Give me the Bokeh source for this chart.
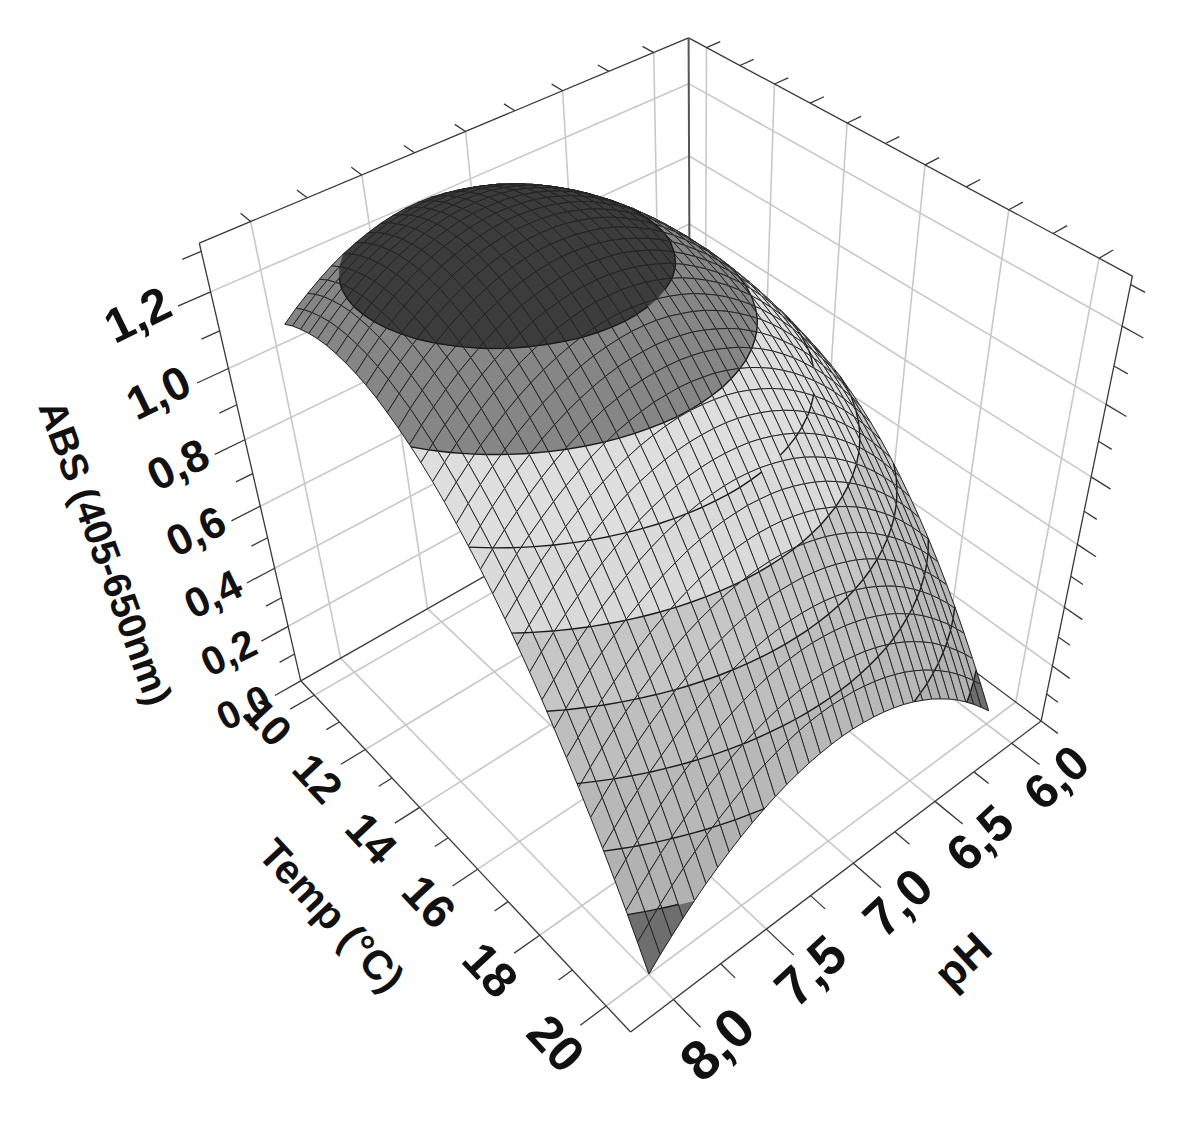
import numpy as np
from bokeh.plotting import figure
from bokeh.embed import file_html
from bokeh.resources import INLINE
from bokeh.core.properties import value

# ---------- data: ABS (x1000); rows Temp 10..20, columns pH 8..6 ----------
ABS_ROWS = [
[1095,1121,1144,1165,1184,1200,1213,1224,1233,1239,1243,1244,1243,1239,1233,1225,1214,1200,1184,1166,1145,1121,1096,1067,1036,1003,967,929,889,846,800,752,701,649],
[1110,1136,1160,1181,1200,1217,1231,1242,1252,1258,1262,1264,1263,1260,1254,1246,1236,1223,1207,1189,1169,1146,1120,1092,1062,1029,994,956,916,873,828,781,731,678],
[1121,1148,1173,1194,1214,1231,1245,1257,1267,1274,1279,1281,1281,1278,1273,1265,1255,1242,1227,1209,1189,1167,1142,1115,1085,1052,1018,980,941,898,854,807,757,705],
[1130,1157,1182,1205,1224,1242,1257,1269,1279,1287,1292,1295,1295,1292,1288,1280,1271,1259,1244,1227,1207,1185,1161,1134,1104,1072,1038,1001,962,920,876,829,780,729],
[1136,1164,1189,1212,1232,1250,1265,1278,1289,1297,1302,1305,1306,1304,1300,1293,1284,1272,1258,1241,1222,1200,1176,1150,1121,1090,1056,1019,980,939,895,849,801,749],
[1139,1167,1193,1216,1237,1255,1271,1284,1295,1304,1310,1313,1314,1313,1309,1303,1294,1282,1269,1253,1234,1213,1189,1163,1135,1104,1070,1034,996,955,912,866,818,767],
[1138,1167,1193,1217,1238,1257,1273,1287,1298,1307,1314,1318,1319,1318,1315,1309,1301,1290,1277,1261,1243,1222,1199,1173,1145,1115,1082,1046,1008,968,925,880,832,782],
[1135,1164,1191,1215,1237,1256,1273,1287,1299,1308,1315,1320,1322,1321,1318,1313,1305,1294,1282,1266,1249,1228,1206,1181,1153,1123,1090,1055,1018,978,936,891,843,794],
[1129,1159,1186,1210,1232,1252,1269,1284,1296,1306,1313,1318,1321,1321,1318,1313,1306,1296,1284,1269,1251,1232,1210,1185,1158,1128,1096,1061,1024,985,943,899,852,802],
[1120,1150,1177,1202,1225,1245,1263,1278,1291,1301,1309,1314,1317,1317,1315,1311,1304,1294,1283,1268,1251,1232,1210,1186,1159,1130,1099,1064,1028,989,947,903,857,808],
[1108,1138,1166,1192,1215,1235,1253,1269,1282,1293,1301,1307,1310,1311,1310,1306,1299,1290,1279,1265,1248,1229,1208,1184,1158,1129,1098,1065,1028,990,949,905,859,811],
[1092,1123,1152,1178,1201,1222,1241,1257,1271,1282,1291,1297,1301,1302,1301,1297,1291,1283,1272,1258,1242,1224,1203,1180,1154,1125,1095,1062,1026,988,947,904,859,811],
[1074,1106,1135,1161,1185,1206,1225,1242,1256,1268,1277,1284,1288,1290,1289,1286,1280,1272,1261,1248,1233,1215,1195,1172,1146,1119,1088,1056,1020,983,943,900,855,808],
[1053,1085,1114,1141,1166,1187,1207,1224,1239,1251,1260,1267,1272,1274,1274,1271,1266,1259,1248,1236,1221,1203,1183,1161,1136,1109,1079,1047,1012,975,935,893,848,801],
[1029,1061,1091,1118,1143,1166,1186,1203,1218,1231,1241,1248,1253,1256,1256,1254,1249,1242,1232,1220,1206,1189,1169,1147,1123,1096,1067,1035,1001,964,925,883,839,792],
[1002,1034,1065,1092,1118,1141,1161,1179,1194,1207,1218,1226,1232,1235,1235,1234,1229,1223,1213,1202,1188,1171,1152,1131,1107,1080,1051,1020,986,950,911,870,826,780],
[972,1005,1035,1064,1089,1113,1134,1152,1168,1181,1192,1201,1207,1211,1212,1210,1206,1200,1191,1180,1167,1150,1132,1111,1087,1061,1033,1002,969,933,894,854,810,765],
[938,972,1003,1032,1058,1082,1103,1122,1138,1152,1164,1173,1179,1183,1185,1184,1181,1175,1166,1156,1143,1127,1109,1088,1065,1040,1012,981,948,913,875,835,792,747],
[902,936,968,997,1024,1048,1070,1089,1106,1120,1132,1142,1149,1153,1155,1155,1152,1146,1139,1128,1115,1100,1083,1062,1040,1015,987,957,925,890,852,812,770,725],
[863,898,930,959,986,1011,1033,1053,1070,1085,1098,1107,1115,1120,1122,1122,1120,1115,1108,1098,1085,1071,1053,1034,1012,987,960,930,898,864,827,787,746,701],
[821,856,889,919,946,971,994,1014,1032,1047,1060,1070,1078,1084,1086,1087,1085,1080,1074,1064,1052,1038,1021,1002,980,956,929,900,869,835,798,759,718,674],
[776,811,844,875,903,928,952,972,990,1006,1019,1030,1038,1044,1048,1049,1047,1043,1037,1028,1016,1002,986,967,946,922,896,868,836,803,767,728,687,644],
[728,764,797,828,857,883,906,927,946,962,976,987,996,1002,1006,1007,1006,1003,997,988,977,964,948,930,909,886,860,832,801,768,732,694,654,611],
[677,713,747,778,807,834,858,879,898,915,929,941,950,957,961,963,962,959,954,946,935,922,907,889,869,846,821,793,763,730,695,657,617,575],
[623,659,694,726,755,782,806,828,848,865,880,892,901,909,913,916,916,913,908,900,890,878,863,845,825,803,778,751,721,689,654,617,578,535],
[565,603,638,670,700,727,752,774,794,812,827,840,850,857,863,865,866,863,859,852,842,830,816,799,779,757,733,706,677,645,611,574,535,493],
[505,543,578,611,641,669,695,718,738,756,771,785,795,803,809,812,813,811,807,800,791,780,765,749,730,709,685,658,629,598,564,528,489,448],
[442,480,516,549,580,608,634,658,679,697,713,726,737,746,752,756,757,756,752,746,737,726,712,696,678,657,633,607,579,548,515,479,441,400],
[376,415,451,485,516,545,571,595,616,635,651,665,677,686,692,697,698,697,694,688,680,669,656,641,623,602,579,554,526,495,462,427,389,349],
[307,346,383,417,449,478,505,529,551,570,587,601,613,623,630,634,636,636,633,628,620,610,597,582,564,544,522,497,469,439,407,372,335,295],
[235,275,312,346,378,408,435,460,482,502,519,534,547,557,564,569,572,572,569,564,557,547,535,520,503,484,461,437,410,380,348,314,277,238],
[160,200,237,273,305,335,363,388,411,431,449,464,477,487,495,501,504,504,502,498,491,482,470,456,439,420,398,374,348,318,287,253,217,178],
[82,122,160,196,229,259,288,313,336,357,375,391,404,415,424,430,433,434,432,429,422,413,402,388,372,353,332,308,282,254,223,189,153,115],
[1,42,80,116,150,181,209,235,259,280,299,315,329,340,349,355,359,361,360,356,350,342,331,318,302,283,263,239,214,186,155,122,86,49],
]
TEMP_MAJOR = [10, 12, 14, 16, 18, 20]
TEMP_MINOR = [11, 13, 15, 17, 19]
TEMP_LABELS = ["10", "12", "14", "16", "18", "20"]
PH_MAJOR = [8, 7.5, 7, 6.5, 6]
PH_MINOR = [7.75, 7.25, 6.75, 6.25]
PH_LABELS = ["8,0", "7,5", "7,0", "6,5", "6,0"]
ABS_MAJOR = [0, .2, .4, .6, .8, 1.0, 1.2]
ABS_MINOR = [.1, .3, .5, .7, .9, 1.1, 1.3]
ABS_LABELS = ["0,0", "0,2", "0,4", "0,6", "0,8", "1,0", "1,2"]
LEVELS = [0.15, .3, .45, .6, .75, .9, 1.05, 1.2]

# ---------- colours of the bands, low to high ----------
COLORS = ["#6e6e6e", "#b2b2b2", "#b8b8b8", "#bebebe", "#c6c6c6", "#dadada", "#dedede", "#868686", "#3c3c3c"]

# ---------- box extents and camera (calibrated on the reference's box and ticks) ----------
T0, T1, H0, H1, ZM = 9.45, 20.7, 5.8, 8.22, 1.32
cal = [((T0,H1,0),(299,677)),((T1,H1,0),(629,1031)),((T1,H0,0),(1043,717)),((T0,H0,0),(688,462)),
((T0,H1,ZM),(200,245)),((T0,H0,ZM),(688.5,36)),((T1,H0,ZM),(1132,277)),
((10,H1,0),(315,696)),((12,H1,0),(368,750)),((14,H1,0),(420,808)),((16,H1,0),(478,872)),((18,H1,0),(540,937)),((20,H1,0),(605,1005)),
((T1,8,0),(672,999)),((T1,7.5,0),(765,928)),((T1,7,0),(852,863)),((T1,6.5,0),(933,800)),((T1,6,0),(1012,743)),
((T0,H1,1.2),(210,292)),((T0,H1,1.0),(227,368)),((T0,H1,.8),(244,438)),((T0,H1,.6),(259,504)),((T0,H1,.4),(273,566)),((T0,H1,.2),(288,624))]
A = []
for (X, Y, Z), (x, y) in cal:
    A.append([X,Y,Z,1,0,0,0,0,-x*X,-x*Y,-x*Z,-x])
    A.append([0,0,0,0,X,Y,Z,1,-y*X,-y*Y,-y*Z,-y])
P = np.linalg.svd(np.array(A))[2][-1].reshape(3, 4)
if (P[2] @ np.array([15, 7, 0, 1.0])) < 0:
    P = -P
def proj(T, H, Z):
    q = P @ np.array([T, H, Z, 1.0])
    return q[0]/q[2], q[1]/q[2]
def wdepth(T, H, Z):
    return P[2] @ np.array([T, H, Z, 1.0])
W_REF = wdepth(T1+1.8, 8, 0)

ZT = np.array(ABS_ROWS) / 1000.0
N = ZT.shape[0] - 1
TS = np.linspace(10, 20, N+1)
HS = np.linspace(8, 6, N+1)

p = figure(width=1184, height=1112, x_range=(0, 1184), y_range=(1112, 0), toolbar_location=None,
           output_backend="svg", min_border=0)
p.axis.visible = False
p.grid.visible = False
p.outline_line_color = None

def lines(segs, color, w):
    xs = []; ys = []
    for a, b in segs:
        x0, y0 = proj(*a); x1, y1 = proj(*b)
        xs.append([x0, x1]); ys.append([y0, y1])
    p.multi_line(xs, ys, line_color=color, line_width=w)

grid = []
for t in TEMP_MAJOR:
    grid += [((t,H1,0),(t,H0,0)), ((t,H0,0),(t,H0,ZM))]
for h in PH_MAJOR:
    grid += [((T1,h,0),(T0,h,0)), ((T0,h,0),(T0,h,ZM))]
for z in ABS_MAJOR[1:]:
    grid += [((T0,H1,z),(T0,H0,z)), ((T0,H0,z),(T1,H0,z))]
lines(grid, "#c8c8c8", 1.6)

box = [((T0,H1,0),(T1,H1,0)), ((T1,H1,0),(T1,H0,0)), ((T0,H1,0),(T0,H0,0)), ((T1,H0,0),(T0,H0,0)),
       ((T0,H1,0),(T0,H1,ZM)), ((T1,H0,0),(T1,H0,ZM)),
       ((T0,H1,ZM),(T0,H0,ZM)), ((T0,H0,ZM),(T1,H0,ZM))]
ticks = []
for t in TEMP_MAJOR:
    ticks += [((t,H1,0),(t,H1+.13,0)), ((t,H0,ZM),(t,H0-.08,ZM))]
for t in TEMP_MINOR:
    ticks += [((t,H1,0),(t,H1+.07,0)), ((t,H0,ZM),(t,H0-.08,ZM))]
for h in PH_MAJOR:
    ticks += [((T1,h,0),(T1+.75,h,0)), ((T0,h,ZM),(T0-.35,h,ZM))]
for h in PH_MINOR:
    ticks += [((T1,h,0),(T1+.4,h,0)), ((T0,h,ZM),(T0-.35,h,ZM))]
for z in ABS_MAJOR:
    ticks += [((T0,H1,z),(T0,H1+.14,z)), ((T1,H0,z),(T1+.45,H0,z))]
for z in ABS_MINOR:
    ticks += [((T0,H1,z),(T0,H1+.08,z)), ((T1,H0,z),(T1+.3,H0,z))]
lines(box + ticks, "#383838", 1.3)
lines([((T0,H0,0),(T0,H0,ZM))], "#555555", 2)

EDGES = [-9] + LEVELS + [9]
def clip(poly, lo, hi):
    def half(poly, f):
        out = []
        for i in range(len(poly)):
            a = poly[i]; b = poly[(i+1) % len(poly)]
            fa = f(a); fb = f(b)
            if fa >= 0:
                out.append(a)
            if fa*fb < 0:
                s = fa/(fa-fb)
                out.append(tuple(a[k]+s*(b[k]-a[k]) for k in range(3)))
        return out
    r = half(poly, lambda v: v[2]-lo)
    if r:
        r = half(r, lambda v: hi-v[2])
    return r

cam = np.linalg.svd(P)[2][-1]
cam = cam[:3]/cam[3]
cells = []
for i in range(N):
    for j in range(N):
        m = np.array([(TS[i]+TS[i+1])/2, (HS[j]+HS[j+1])/2, ZT[i:i+2, j:j+2].mean()])
        cells.append((float(np.sum((m-cam)**2)), i, j))
cells.sort(reverse=True)
X = []; Y = []; FC = []; FA = []; LC = []; LW = []
def add(poly, fc, fa, lc, lw):
    q = [proj(*v) for v in poly]
    X.append([a for a, b in q]); Y.append([b for a, b in q])
    FC.append(fc); FA.append(fa); LC.append(lc); LW.append(lw)
for _, i, j in cells:
    quad = [(TS[i],HS[j],ZT[i,j]), (TS[i+1],HS[j],ZT[i+1,j]), (TS[i+1],HS[j+1],ZT[i+1,j+1]), (TS[i],HS[j+1],ZT[i,j+1])]
    zs = [v[2] for v in quad]
    for k in range(len(COLORS)):
        if max(zs) < EDGES[k] or min(zs) > EDGES[k+1]:
            continue
        r = clip(quad, EDGES[k], EDGES[k+1])
        if len(r) >= 3:
            add(r, COLORS[k], 1.0, COLORS[k], 0.6)
    add(quad, "#000000", 0.0, "#222222", 1.0)
    for L in LEVELS:
        if min(zs) < L < max(zs):
            pts2 = []
            for a in range(4):
                u = quad[a]; v = quad[(a+1) % 4]
                if (u[2]-L)*(v[2]-L) < 0:
                    s = (L-u[2])/(v[2]-u[2])
                    pts2.append(tuple(u[k]+s*(v[k]-u[k]) for k in range(3)))
            if len(pts2) == 2:
                add(pts2, "#000000", 0.0, "#1a1a1a", 1.4)
p.patches(X, Y, fill_color=FC, fill_alpha=FA, line_color=LC, line_width=LW)

def label(pos, txt, size, ang):
    p.text([pos[0]], [pos[1]], text=[txt], angle=[np.radians(ang)], text_font=value("Liberation Sans"),
           text_font_style="bold", text_font_size=f"{size:.1f}px", text_align="center",
           text_baseline="middle", text_color="#111111")
for z, s in zip(ABS_MAJOR, ABS_LABELS):
    q = (T0, H1+.30, z+.02)
    label(proj(*q), s, 47*W_REF/wdepth(*q), 26)
for t, s in zip(TEMP_MAJOR, TEMP_LABELS):
    q = (t, H1+.25, 0)
    label(proj(*q), s, 51*W_REF/wdepth(*q), -47)
for h, s in zip(PH_MAJOR, PH_LABELS):
    q = (T1+1.2, h, 0)
    label(proj(*q), s, 56*W_REF/wdepth(*q), 43)
label((962, 960), "pH", 44, 43)
label((331, 915), "Temp (°C)", 41, -47)
label((105, 552), "ABS (405-650nm)", 39, -70)
open("out.html", "w").write(file_html(p, INLINE))
